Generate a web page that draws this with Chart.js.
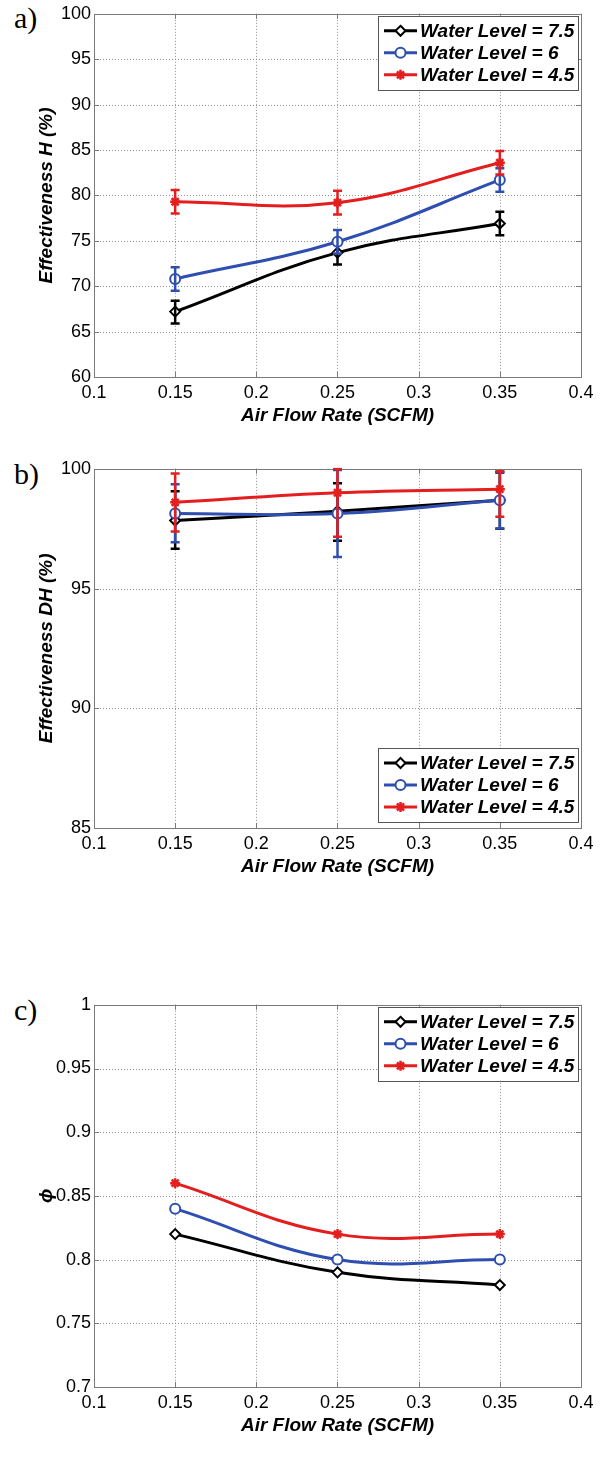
<!DOCTYPE html>
<html><head><meta charset="utf-8">
<script src="https://cdn.jsdelivr.net/npm/chart.js@4.4.1/dist/chart.umd.min.js"></script>
<style>
html,body{margin:0;padding:0;background:#fff;}
body{width:605px;height:1463px;position:relative;overflow:hidden;}
canvas{position:absolute;left:0;}
.lbl{position:absolute;font-family:"Liberation Serif","Times New Roman",serif;font-size:30px;color:#000;line-height:30px;}
</style></head><body>
<div class="lbl" style="left:14px;top:3px">a)</div>
<div class="lbl" style="left:14px;top:459px">b)</div>
<div class="lbl" style="left:14px;top:995px">c)</div>
<canvas id="ca"></canvas>
<canvas id="cb"></canvas>
<canvas id="cc"></canvas>
<script>
// ---------- data ----------
const xValues = [0.15, 0.25, 0.35];
const xTicks = [0.1, 0.15, 0.2, 0.25, 0.3, 0.35, 0.4];
const xTickLabels = ['0.1', '0.15', '0.2', '0.25', '0.3', '0.35', '0.4'];
const seriesLabels = ['Water Level = 7.5', 'Water Level = 6', 'Water Level = 4.5'];

// a) Effectiveness H (%)
const hTicks = [60, 65, 70, 75, 80, 85, 90, 95, 100];
const hTickLabels = ['60', '65', '70', '75', '80', '85', '90', '95', '100'];
const hWL75 = [67.2, 73.7, 76.9];
const hWL75Low = [65.9, 72.4, 75.6];
const hWL75High = [68.4, 75.0, 78.2];
const hWL6 = [70.8, 74.9, 81.7];
const hWL6Low = [69.5, 73.6, 80.4];
const hWL6High = [72.1, 76.2, 83.0];
const hWL45 = [79.3, 79.2, 83.6];
const hWL45Low = [78.0, 77.9, 82.3];
const hWL45High = [80.6, 80.5, 84.9];

// b) Effectiveness DH (%)
const dhTicks = [85, 90, 95, 100];
const dhTickLabels = ['85', '90', '95', '100'];
const dhWL75 = [97.84, 98.23, 98.69];
const dhWL75Low = [96.66, 97.0, 97.5];
const dhWL75High = [99.06, 99.4, 99.85];
const dhWL6 = [98.13, 98.13, 98.69];
const dhWL6Low = [96.93, 96.32, 97.51];
const dhWL6High = [99.35, 99.95, 99.87];
const dhWL45 = [98.6, 99.0, 99.15];
const dhWL45Low = [97.38, 97.16, 98.0];
const dhWL45High = [99.8, 100.0, 99.9];

// c) phi
const phiTicks = [0.7, 0.75, 0.8, 0.85, 0.9, 0.95, 1];
const phiTickLabels = ['0.7', '0.75', '0.8', '0.85', '0.9', '0.95', '1'];
const phiWL75 = [0.82, 0.79, 0.78];
const phiWL6 = [0.84, 0.80, 0.80];
const phiWL45 = [0.86, 0.82, 0.82];

// ---------- styles ----------
const COLORS = ['#000000', '#2f4fb0', '#e41e1e'];
const MARKERS = ['rectRot', 'circle', 'star'];
const FONT = '"Liberation Sans", Arial, Helvetica, sans-serif';
Chart.defaults.font.family = FONT;
Chart.defaults.color = '#000';

function pts(ys) { return xValues.map((x, i) => ({x: x, y: ys[i]})); }

function drawMarker(ctx, style, x, y, r, color) {
  ctx.save();
  ctx.strokeStyle = color; ctx.fillStyle = '#fff'; ctx.lineWidth = 2;
  ctx.beginPath();
  if (style === 'rectRot') {
    ctx.moveTo(x, y - r); ctx.lineTo(x + r, y); ctx.lineTo(x, y + r); ctx.lineTo(x - r, y); ctx.closePath();
    ctx.fill(); ctx.stroke();
  } else if (style === 'circle') {
    ctx.arc(x, y, r, 0, Math.PI * 2); ctx.fill(); ctx.stroke();
  } else {
    ctx.lineWidth = 2.5;
    for (let k = 0; k < 4; k++) {
      const a = k * Math.PI / 4;
      ctx.moveTo(x - Math.cos(a) * r, y - Math.sin(a) * r);
      ctx.lineTo(x + Math.cos(a) * r, y + Math.sin(a) * r);
    }
    ctx.stroke();
  }
  ctx.restore();
}

const framePlugin = {
  id: 'matlabFrame',
  beforeDatasetsDraw(chart) {
    const {ctx, chartArea: a, scales: {x, y}} = chart;
    ctx.save();
    ctx.strokeStyle = '#8f8f8f'; ctx.lineWidth = 1; ctx.setLineDash([1, 2]);
    x.ticks.forEach(t => {
      const px = Math.round(x.getPixelForValue(t.value)) + 0.5;
      if (px > a.left + 1 && px < a.right - 1) { ctx.beginPath(); ctx.moveTo(px, a.top); ctx.lineTo(px, a.bottom); ctx.stroke(); }
    });
    y.ticks.forEach(t => {
      const py = Math.round(y.getPixelForValue(t.value)) + 0.5;
      if (py > a.top + 1 && py < a.bottom - 1) { ctx.beginPath(); ctx.moveTo(a.left, py); ctx.lineTo(a.right, py); ctx.stroke(); }
    });
    ctx.setLineDash([]);
    ctx.strokeStyle = '#7a7a7a';
    const L = 5;
    x.ticks.forEach(t => {
      const px = Math.round(x.getPixelForValue(t.value)) + 0.5;
      ctx.beginPath(); ctx.moveTo(px, a.bottom); ctx.lineTo(px, a.bottom - L);
      ctx.moveTo(px, a.top); ctx.lineTo(px, a.top + L); ctx.stroke();
    });
    y.ticks.forEach(t => {
      const py = Math.round(y.getPixelForValue(t.value)) + 0.5;
      ctx.beginPath(); ctx.moveTo(a.left, py); ctx.lineTo(a.left + L, py);
      ctx.moveTo(a.right, py); ctx.lineTo(a.right - L, py); ctx.stroke();
    });
    ctx.strokeRect(Math.round(a.left) + 0.5, Math.round(a.top) + 0.5, Math.round(a.right - a.left), Math.round(a.bottom - a.top));
    ctx.restore();
  }
};

const errorBarPlugin = {
  id: 'errorBars',
  afterDatasetDraw(chart, args) {
    const ds = chart.data.datasets[args.index];
    if (!ds.errLow) return;
    const {ctx, chartArea: a, scales: {x, y}} = chart;
    ctx.save();
    ctx.beginPath(); ctx.rect(a.left, a.top - 1, a.right - a.left, a.bottom - a.top + 2); ctx.clip();
    ctx.strokeStyle = ds.borderColor; ctx.lineWidth = 2.5;
    ds.data.forEach((p, i) => {
      const px = x.getPixelForValue(p.x);
      const yl = y.getPixelForValue(ds.errLow[i]);
      const yh = y.getPixelForValue(ds.errHigh[i]);
      ctx.beginPath();
      ctx.moveTo(px, yl); ctx.lineTo(px, yh);
      ctx.moveTo(px - 4.5, yl); ctx.lineTo(px + 4.5, yl);
      ctx.moveTo(px - 4.5, yh); ctx.lineTo(px + 4.5, yh);
      ctx.stroke();
    });
    ctx.restore();
  }
};

const legendPlugin = {
  id: 'boxLegend',
  afterDraw(chart, args, opts) {
    const {ctx, chartArea: a} = chart;
    const w = 200, h = 74;
    const left = a.right - 3 - w;
    const top = opts.where === 'bottom' ? a.bottom - 6 - h : a.top + 2;
    ctx.save();
    ctx.fillStyle = '#fff'; ctx.fillRect(left, top, w, h);
    ctx.strokeStyle = '#555'; ctx.lineWidth = 1;
    ctx.strokeRect(Math.round(left) + 0.5, Math.round(top) + 0.5, w, h);
    chart.data.datasets.forEach((ds, i) => {
      const yy = top + 15 + i * 22;
      ctx.strokeStyle = ds.borderColor; ctx.lineWidth = 3;
      ctx.beginPath(); ctx.moveTo(left + 6, yy); ctx.lineTo(left + 39, yy); ctx.stroke();
      drawMarker(ctx, ds.pointStyle, left + 22.5, yy, 5, ds.borderColor);
      ctx.fillStyle = '#000';
      ctx.font = 'italic bold 19px ' + FONT;
      ctx.textBaseline = 'middle'; ctx.textAlign = 'left';
      ctx.fillText(ds.label, left + 42, yy + 1);
    });
    ctx.restore();
  }
};

function makeDatasets(series, lows, highs) {
  return series.map((s, i) => ({
    label: seriesLabels[i],
    data: pts(s),
    errLow: lows ? lows[i] : null,
    errHigh: highs ? highs[i] : null,
    order: series.length - i,
    borderColor: COLORS[i],
    backgroundColor: COLORS[i],
    borderWidth: 3,
    tension: 0.4,
    pointStyle: MARKERS[i],
    pointRadius: 5,
    pointBorderWidth: MARKERS[i] === 'star' ? 2.5 : 2,
    pointBackgroundColor: '#fff',
    pointBorderColor: COLORS[i],
    fill: false
  }));
}

function makeChart(id, plotTop, plotBottom, datasets, yMin, yMax, yTicks, yTickLabels, yTitle, legendWhere) {
  const canvas = document.getElementById(id);
  const canvasTop = plotTop - 12;
  const canvasH = plotBottom + 52 - canvasTop;
  canvas.style.top = canvasTop + 'px';
  canvas.width = 605; canvas.height = canvasH;
  canvas.style.width = '605px'; canvas.style.height = canvasH + 'px';
  return new Chart(canvas, {
    type: 'line',
    data: {datasets: datasets},
    plugins: [framePlugin, errorBarPlugin, legendPlugin],
    options: {
      responsive: false, animation: false, devicePixelRatio: 1,
      layout: {padding: {top: 12, left: 0, right: 24, bottom: 2}},
      plugins: {legend: {display: false}, tooltip: {enabled: false}, boxLegend: {where: legendWhere}},
      scales: {
        x: {
          type: 'linear', min: 0.1, max: 0.4,
          afterBuildTicks: s => { s.ticks = xTicks.map(v => ({value: v})); },
          afterFit: s => { s.height = 50; },
          grid: {display: false, drawTicks: false}, border: {display: false},
          ticks: {autoSkip: false, maxRotation: 0, padding: 5, color: '#000', font: {size: 18},
                  callback: (v, i) => xTickLabels[i]},
          title: {display: true, text: 'Air Flow Rate (SCFM)', color: '#000', padding: {top: 0, bottom: 0},
                  font: {size: 19, weight: 'bold', style: 'italic'}}
        },
        y: {
          type: 'linear', min: yMin, max: yMax,
          afterBuildTicks: s => { s.ticks = yTicks.map(v => ({value: v})); },
          afterFit: s => { s.width = 94; },
          grid: {display: false, drawTicks: false}, border: {display: false},
          ticks: {autoSkip: false, padding: 3, color: '#000', font: {size: 18},
                  callback: (v, i) => yTickLabels[i]},
          title: {display: true, text: yTitle, color: '#000', padding: {top: 35, bottom: 0},
                  font: {size: 19, weight: 'bold', style: 'italic'}}
        }
      }
    }
  });
}

makeChart('ca', 12, 377,
  makeDatasets([hWL75, hWL6, hWL45], [hWL75Low, hWL6Low, hWL45Low], [hWL75High, hWL6High, hWL45High]),
  60, 100, hTicks, hTickLabels, 'Effectiveness H (%)', 'top');
makeChart('cb', 467, 828,
  makeDatasets([dhWL75, dhWL6, dhWL45], [dhWL75Low, dhWL6Low, dhWL45Low], [dhWL75High, dhWL6High, dhWL45High]),
  85, 100, dhTicks, dhTickLabels, 'Effectiveness DH (%)', 'bottom');
makeChart('cc', 1003, 1387,
  makeDatasets([phiWL75, phiWL6, phiWL45], null, null),
  0.7, 1, phiTicks, phiTickLabels, '\u03D5', 'top');
</script>
</body></html>
